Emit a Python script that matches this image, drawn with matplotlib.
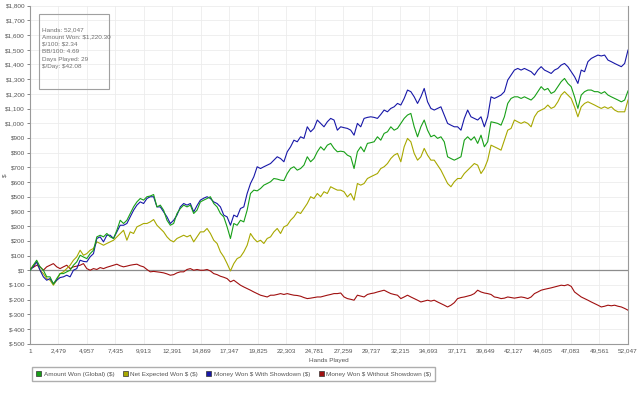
import numpy as np
import matplotlib
matplotlib.use("Agg")
import matplotlib.pyplot as plt
from matplotlib.patches import Rectangle, Patch

plt.rcParams["text.parse_math"] = False
plt.rcParams["font.family"] = ["Liberation Sans", "DejaVu Sans"]

# cumulative results ($), sampled at even hand intervals from 1 to 52,047
won = [0, 34, 68, 23, 0, -45, -45, -95, -57, -23, -23, -11, 0, 34, 57, 102, 90, 79, 113, 136,
       227, 238, 227, 250, 227, 216, 272, 340, 318, 340, 386, 431, 465, 488, 477, 500, 505, 515, 431, 443,
       408, 340, 306, 318, 386, 420, 443, 431, 443, 386, 409, 465, 477, 488, 500, 454, 431, 386, 363, 295,
       216, 318, 306, 340, 329, 409, 522, 545, 540, 556, 579, 590, 602, 624, 620, 613, 610, 658, 692, 704,
       681, 692, 715, 772, 738, 760, 806, 840, 817, 851, 863, 829, 806, 810, 806, 783, 772, 692, 806, 840,
       806, 863, 868, 874, 908, 885, 931, 942, 976, 953, 965, 999, 1033, 1056, 1067, 976, 908, 976, 1022, 953,
       908, 919, 897, 908, 874, 772, 760, 749, 760, 772, 885, 908, 885, 908, 863, 919, 840, 874, 1010, 1005,
       999, 987, 1044, 1135, 1169, 1180, 1180, 1169, 1180, 1169, 1158, 1180, 1215, 1249, 1226, 1237, 1203, 1215, 1249, 1283,
       1305, 1271, 1249, 1180, 1101, 1192, 1215, 1226, 1226, 1215, 1215, 1203, 1215, 1192, 1180, 1169, 1158, 1146, 1158, 1220]

expected = [0, 34, 57, 0, -23, -57, -68, -102, -68, -23, -11, 11, 34, 68, 91, 136, 102, 113, 136, 148,
            193, 182, 170, 182, 193, 204, 227, 250, 272, 204, 261, 250, 295, 306, 318, 318, 329, 345, 306, 284,
            261, 227, 204, 193, 216, 227, 238, 227, 238, 193, 227, 261, 261, 284, 250, 204, 182, 125, 91, 45,
            -5, 45, 79, 91, 125, 170, 250, 216, 193, 204, 182, 216, 227, 261, 284, 250, 295, 306, 340, 363,
            397, 386, 420, 454, 500, 488, 522, 500, 534, 522, 568, 556, 545, 545, 534, 499, 522, 477, 590, 579,
            590, 624, 636, 647, 658, 692, 704, 726, 760, 783, 795, 738, 840, 897, 874, 795, 749, 772, 829, 783,
            749, 749, 715, 681, 636, 590, 568, 602, 624, 624, 658, 681, 704, 726, 715, 658, 692, 749, 851, 840,
            829, 817, 885, 953, 965, 1022, 1010, 999, 1010, 999, 976, 1044, 1078, 1090, 1101, 1124, 1101, 1112, 1146, 1192,
            1215, 1192, 1169, 1112, 1044, 1112, 1135, 1146, 1135, 1124, 1112, 1101, 1112, 1101, 1112, 1090, 1078, 1078, 1078, 1158]

showdown = [0, 23, 57, 0, -45, -68, -57, -91, -68, -50, -45, -34, -45, 0, 11, 68, 60, 57, 91, 113,
            216, 227, 193, 238, 238, 216, 261, 306, 306, 318, 363, 408, 443, 465, 454, 488, 500, 500, 431, 431,
            397, 363, 318, 340, 375, 431, 454, 443, 454, 397, 440, 477, 490, 500, 488, 465, 454, 431, 375, 363,
            306, 375, 363, 420, 431, 522, 590, 636, 704, 692, 704, 715, 726, 749, 772, 760, 738, 806, 840, 885,
            874, 908, 897, 976, 942, 965, 1022, 999, 976, 1010, 1033, 1022, 953, 976, 970, 965, 953, 919, 999, 976,
            1033, 1040, 1044, 1040, 1033, 1060, 1090, 1078, 1101, 1112, 1135, 1124, 1169, 1226, 1215, 1180, 1135, 1180, 1237, 1146,
            1101, 1090, 1101, 1112, 1056, 999, 987, 976, 976, 953, 1033, 1090, 1044, 1033, 1022, 1044, 976, 1044, 1180, 1169,
            1180, 1192, 1215, 1294, 1328, 1362, 1373, 1362, 1373, 1362, 1351, 1328, 1362, 1385, 1362, 1351, 1339, 1362, 1373, 1396,
            1407, 1385, 1351, 1317, 1271, 1362, 1351, 1419, 1441, 1453, 1464, 1458, 1464, 1430, 1419, 1407, 1396, 1385, 1407, 1498]

no_showdown = [11, 20, 34, 23, 0, 23, 34, 45, 23, 11, 23, 34, 11, 23, 28, 34, 45, 11, 0, 11,
               5, 18, 11, 20, 27, 34, 41, 30, 23, 28, 34, 38, 41, 30, 23, 5, -11, -8, -11, -14,
               -18, -25, -34, -30, -18, -11, -11, 5, 11, 0, 5, 0, 0, 5, -5, -23, -30, -41, -48, -57,
               -79, -68, -85, -102, -114, -125, -136, -148, -159, -170, -176, -182, -170, -170, -165, -159, -165, -159, -165, -170,
               -172, -177, -186, -193, -190, -186, -182, -182, -176, -170, -165, -159, -159, -155, -182, -193, -198, -204, -170, -176,
               -182, -165, -159, -155, -148, -142, -136, -148, -159, -165, -170, -193, -182, -170, -182, -193, -204, -216, -210, -204,
               -210, -204, -216, -227, -238, -250, -238, -221, -193, -186, -182, -176, -170, -159, -136, -148, -155, -159, -165, -182,
               -186, -193, -190, -182, -186, -190, -186, -182, -186, -193, -182, -159, -148, -136, -130, -125, -120, -114, -108, -102,
               -105, -98, -110, -148, -165, -182, -193, -204, -216, -227, -238, -250, -245, -238, -242, -238, -245, -250, -260, -272]

hand_ticks = [1, 2479, 4957, 7435, 9913, 12391, 14869, 17347, 19825, 22303, 24781,
              27259, 29737, 32215, 34693, 37171, 39649, 42127, 44605, 47083, 49561, 52047]
dollar_ticks = list(range(-500, 1801, 100))

series_names = ["Amount Won (Global) ($)", "Net Expected Won $ ($)",
                "Money Won $ With Showdown ($)", "Money Won $ Without Showdown ($)"]
colors = ["#18a018", "#a8a800", "#1818a8", "#a01010"]

stats = ["Hands: 52,047", "Amount Won: $1,220.30", "$/100: $2.34",
         "BB/100: 4.69", "Days Played: 29", "$/Day: $42.08"]

hands = np.linspace(1, 52047, len(won))
fs = 4.6

fig = plt.figure(figsize=(6.4, 3.97), dpi=100)
ax = fig.add_axes([30 / 640, 1 - 343.7 / 397, 598 / 640, 338 / 397])

# draw order: red, olive, blue, then green on top
ax.plot(hands, no_showdown, color=colors[3], lw=0.8, zorder=3)
ax.plot(hands, expected, color=colors[1], lw=0.8, zorder=3)
ax.plot(hands, showdown, color=colors[2], lw=0.8, zorder=3)
ax.plot(hands, won, color=colors[0], lw=0.8, zorder=4)

ax.axhline(0, color="#8c8c8c", lw=0.9, zorder=2)

ax.set_xlim(1, 52047)
ax.set_ylim(-500, 1800)
ax.set_xticks(hand_ticks)
ax.set_xticklabels([f"{h:,}" for h in hand_ticks])
ax.set_yticks(dollar_ticks)
ax.set_yticklabels([f"${d:,}" for d in dollar_ticks])
ax.tick_params(labelsize=fs, colors="#555555", length=2, width=0.5, pad=1.5)
ax.tick_params(axis="x", length=0, pad=3.5)
ax.grid(True, color="#ececec", lw=0.6)
ax.set_axisbelow(True)

for side in ["left", "bottom", "right"]:
    ax.spines[side].set_color("#9a9a9a")
    ax.spines[side].set_linewidth(0.8)
ax.spines["top"].set_visible(False)

ax.set_xlabel("Hands Played", fontsize=fs, color="#555555", labelpad=3)
fig.text(2 / 640, 1 - 175 / 397, "$", fontsize=fs, color="#555555",
         rotation=90, ha="left", va="center")

# stats box
fig.patches.append(Rectangle((39 / 640, 1 - 89 / 397), 70 / 640, 75 / 397,
                             transform=fig.transFigure, fill=False,
                             edgecolor="#a0a0a0", lw=0.8))
fig.text(42 / 640, 1 - 27 / 397, "\n".join(stats), fontsize=fs, color="#707070",
         va="top", ha="left", linespacing=1.6)

handles = [Patch(facecolor=c, edgecolor="#333333", lw=0.5) for c in colors]
fig.legend(handles, series_names, loc="lower left",
           bbox_to_anchor=(29 / 640, 1 - 384 / 397), ncol=4, fontsize=fs,
           frameon=True, fancybox=False, edgecolor="#9a9a9a",
           handlelength=0.8, handleheight=0.8, handletextpad=0.4,
           columnspacing=1.3, borderpad=0.6, labelcolor="#555555")

fig.savefig("out.png", dpi=100)
